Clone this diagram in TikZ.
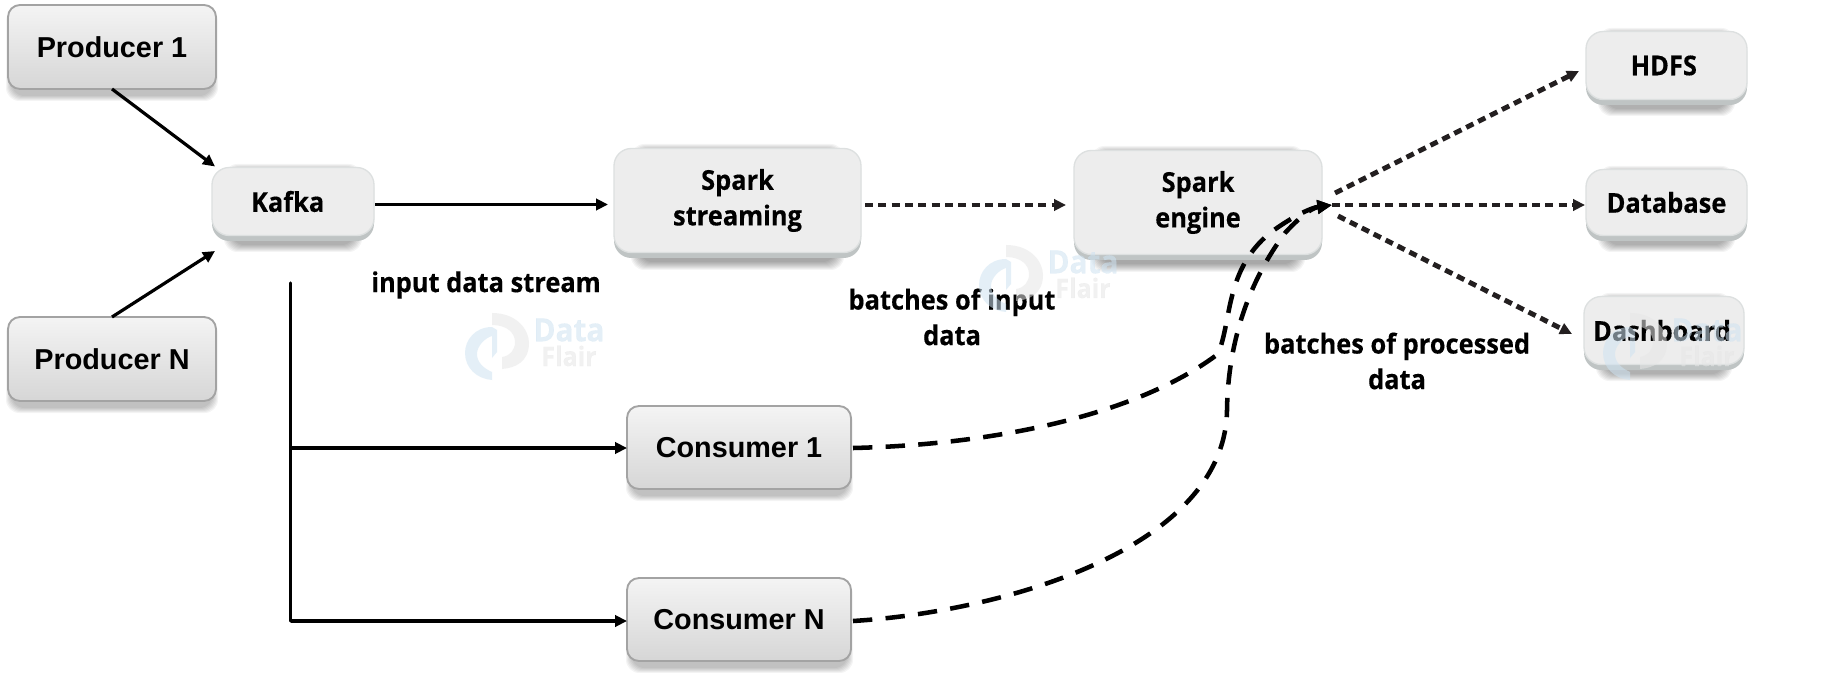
\documentclass[tikz,border=0pt]{standalone}
\usepackage{fontspec}
\setmainfont{Open Sans}[BoldFeatures={FakeStretch=0.93,FakeBold=0.3}]
\newfontfamily\arialfont{Liberation Sans}
\usetikzlibrary{arrows.meta,calc}
\definecolor{inkdark}{HTML}{231F20}
\definecolor{gtop}{HTML}{F4F4F4}
\definecolor{gbot}{HTML}{D6D6D6}
\definecolor{gedge}{HTML}{A3A3A3}
\definecolor{sfill}{HTML}{EDEDED}
\definecolor{sedge}{HTML}{DDE0E0}
\definecolor{sbase}{HTML}{BFC4C4}
\definecolor{wmblue}{HTML}{CFE3F2}
\definecolor{wmgrey}{HTML}{E6E6E6}
\newcommand{\softshadow}[5]{%
  \foreach \s in {1,...,#5} {%
    \fill[black,opacity=.045,rounded corners=10pt]
      ({#1-\s},{#2-\s}) rectangle ({#3+\s},{#4+\s});
  }%
}
\newcommand{\watermark}[2]{%
  \begin{scope}[shift={(#1,#2)},opacity=.55]
    \fill[wmgrey] (37,13) .. controls (62,13) and (74,30) .. (74,43)
      .. controls (74,62) and (60,68) .. (47,69) -- (47,57)
      .. controls (55,56) and (60,50) .. (60,42)
      .. controls (60,33) and (52,25) .. (37,25) -- cycle;
    \fill[wmblue] (37,27) .. controls (20,27) and (10,40) .. (10,53)
      .. controls (10,68) and (22,79) .. (37,80) -- (37,72)
      .. controls (28,68) and (22,62) .. (22,54)
      .. controls (22,46) and (30,38) .. (37,36) -- (37,58) -- (42,52) -- (42,30) -- cycle;
    \node[text=wmblue,font=\fontsize{24}{26}\selectfont\bfseries,inner sep=0pt] (#1dt) at (114,30) {Data};
    \node[text=wmgrey,font=\fontsize{20}{22}\selectfont\bfseries,inner sep=0pt] (#1fl) at (114,56) {Flair};
  \end{scope}%
}
\tikzset{
  x=.75pt,y=-.75pt,
  sz/.style 2 args={minimum width=#1*.75pt,minimum height=#2*.75pt},
  gbox/.style={draw=gedge,line width=1.4pt,rounded corners=9pt,top color=gtop,bottom color=gbot,
    inner sep=0pt,outer sep=0pt,align=center,text=black,font=\arialfont\fontsize{21.6}{26}\selectfont\bfseries},
  sbox/.style={draw=sedge,line width=1pt,rounded corners=13pt,fill=sfill,
    inner sep=0pt,outer sep=0pt,align=center,text=black,font=\fontsize{20.5}{26.7}\selectfont\bfseries},
  sbase/.style={fill=sbase,rounded corners=13pt,inner sep=0pt,outer sep=0pt},
  lbl/.style={inner sep=0pt,outer sep=0pt,align=center,text=black,font=\fontsize{20.5}{26.7}\selectfont\bfseries},
  solidarrow/.style={draw=black,line width=2.4pt,-{Triangle[length=9pt,width=8.5pt]}},
  plainline/.style={draw=black,line width=2.4pt},
  dotarrow/.style={draw=inkdark,line width=3.7pt,dash pattern=on 6pt off 4pt,-{Triangle[length=9pt,width=8.5pt]}},
  dasharrow/.style={draw=black,line width=3.4pt,dash pattern=on 14.5pt off 10pt,-{Triangle[length=11pt,width=10pt]}},
}
\begin{document}
\begin{tikzpicture}
\useasboundingbox (0,0) rectangle (1822,673);
\fill[white] (0,0) rectangle (1822,673);

% shadows
\softshadow{12}{14}{212}{95}{6}
\softshadow{12}{326}{212}{407}{6}
\softshadow{632}{415}{847}{495}{6}
\softshadow{632}{587}{847}{667}{6}
\softshadow{232}{172}{354}{244}{8}
\softshadow{640}{153}{835}{261}{9}
\softshadow{1100}{155}{1296}{263}{9}
\softshadow{1606}{36}{1727}{108}{8}
\softshadow{1606}{174}{1727}{244}{8}
\softshadow{1604}{301}{1724}{373}{8}

% bases of the bevelled boxes
\node[sbase,sz={162}{71}] (kafkab) at (293,205.5) {};
\node[sbase,sz={247}{107}] (streamb) at (737.5,204.5) {};
\node[sbase,sz={248}{107}] (engineb) at (1198,206.5) {};
\node[sbase,sz={161}{71}] (hdfsb) at (1666.5,69.5) {};
\node[sbase,sz={161}{69}] (dbb) at (1666.5,206.5) {};
\node[sbase,sz={160}{71}] (dashb) at (1664,334.5) {};

% boxes
\node[gbox,sz={208}{84}] (p1) at (112,47) {Producer 1};
\node[gbox,sz={208}{84}] (pn) at (112,359) {Producer N};
\node[gbox,sz={224}{83}] (c1) at (739,447.5) {Consumer 1};
\node[gbox,sz={224}{83}] (cn) at (739,619.5) {Consumer N};
\node[sbox,sz={162}{68}] (kafka) at (293,201.5) {Kafka\hspace{8pt}};
\node[sbox,sz={247}{104}] (stream) at (737.5,200.5) {Spark\\streaming};
\node[sbox,sz={248}{104}] (engine) at (1198,202.5) {Spark\\engine};
\node[sbox,sz={161}{68}] (hdfs) at (1666.5,65.5) {HDFS\hspace{4pt}};
\node[sbox,sz={161}{66}] (db) at (1666.5,202.5) {Database};
\node[sbox,sz={160}{68}] (dash) at (1664,330.5) {Dashboard\hspace{3pt}};

% labels
\node[lbl] (linput) at (486,285) {input data stream};
\node[lbl] (lbatch) at (952,317) {batches of input\\data};
\node[lbl] (lproc) at (1397,361) {batches of processed\\data};

% free-end coordinates
\coordinate (kin1) at (215,166.5);
\coordinate (kin2) at (215,251);
\coordinate (trunktop) at (290.5,283);
\coordinate (j1) at (290.5,448);
\coordinate (j2) at (290.5,621);
\coordinate (hub) at (1332,205);
\coordinate (outh) at (1579,71);
\coordinate (outb) at (1585,205);
\coordinate (outd) at (1572,334);
\coordinate (starth) at (1335,193);
\coordinate (startd) at (1338,216);

% connectors
\draw[solidarrow] (p1.south) -- (kin1);
\draw[solidarrow] (pn.north) -- (kin2);
\draw[solidarrow] ($(kafka.east)+(1,3)$) -- ($(stream.west)+(-6,4)$);
\draw[plainline,line cap=round] (trunktop) -- (j1) -- (j2);
\draw[solidarrow] (j1) -- (j1 -| c1.west);
\draw[solidarrow] (j2) -- (j2 -| cn.west);
\draw[dotarrow] ($(stream.east)+(4,4.5)$) -- ($(engine.west)+(-8,2.5)$);
\draw[dotarrow] (starth) -- (outh);
\draw[dotarrow] (hub) -- (outb);
\draw[dotarrow] (startd) -- (outd);
\draw[dasharrow] ($(c1.east)+(2,.5)$) .. controls (980,445) and (1130,420) .. (1218,354)
   .. controls (1232,320) and (1225,270) .. (1270,233)
   .. controls (1290,218) and (1310,208) .. (hub);
\draw[dasharrow] ($(cn.east)+(2,1.5)$) .. controls (1000,612) and (1225,550) .. (1227,410)
   .. controls (1228,340) and (1250,280) .. (1285,233)
   .. controls (1295,222) and (1310,208) .. (hub);

% watermarks
\watermark{455}{300}
\watermark{969}{232}
\watermark{1593}{300}
\end{tikzpicture}
\end{document}
